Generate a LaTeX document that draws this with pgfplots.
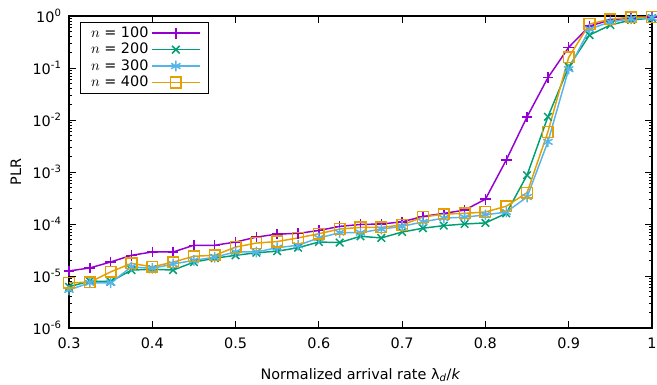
\documentclass[border=0pt]{standalone}
\usepackage{pgfplots}
\pgfplotsset{compat=1.18}
\usepackage{pgfplotstable}
\usepackage{fontspec}
\setmainfont{DejaVu Sans}
\definecolor{cpur}{HTML}{9400D3}
\definecolor{cgrn}{HTML}{009E73}
\definecolor{ccya}{HTML}{56B4E9}
\definecolor{cora}{HTML}{E69F00}
\newcommand{\ff}{\fontsize{10.8}{12.6}\selectfont}

\pgfplotstableread{
x y
0.300 1.25e-5
0.325 1.43e-5
0.350 1.86e-5
0.375 2.5e-5
0.400 2.9e-5
0.425 2.9e-5
0.450 3.9e-5
0.475 3.9e-5
0.500 4.5e-5
0.525 5.6e-5
0.550 6.4e-5
0.575 6.6e-5
0.600 7.5e-5
0.625 9.0e-5
0.650 9.8e-5
0.675 1.0e-4
0.700 1.1e-4
0.725 1.4e-4
0.750 1.6e-4
0.775 1.85e-4
0.800 3.0e-4
0.825 1.7e-3
0.850 1.15e-2
0.875 6.5e-2
0.900 0.25
0.925 0.64
0.950 0.84
0.975 0.92
1.000 0.96
}\tA
\pgfplotstableread{
x y
0.300 6.2e-6
0.325 8.0e-6
0.350 7.8e-6
0.375 1.3e-5
0.400 1.35e-5
0.425 1.3e-5
0.450 1.85e-5
0.475 2.2e-5
0.500 2.5e-5
0.525 2.8e-5
0.550 3.0e-5
0.575 3.5e-5
0.600 4.5e-5
0.625 4.4e-5
0.650 5.8e-5
0.675 5.4e-5
0.700 7.0e-5
0.725 8.3e-5
0.750 9.3e-5
0.775 1.0e-4
0.800 1.05e-4
0.825 1.6e-4
0.850 8.7e-4
0.875 1.15e-2
0.900 0.105
0.925 0.43
0.950 0.67
0.975 0.84
1.000 0.91
}\tB
\pgfplotstableread{
x y
0.300 5.4e-6
0.325 7.4e-6
0.350 7.4e-6
0.375 1.5e-5
0.400 1.4e-5
0.425 1.7e-5
0.450 2.0e-5
0.475 2.3e-5
0.500 2.9e-5
0.525 2.9e-5
0.550 3.5e-5
0.575 3.9e-5
0.600 5.4e-5
0.625 6.8e-5
0.650 6.8e-5
0.675 8.0e-5
0.700 9.0e-5
0.725 1.1e-4
0.750 1.3e-4
0.775 1.35e-4
0.800 1.5e-4
0.825 1.7e-4
0.850 3.3e-4
0.875 3.8e-3
0.900 0.095
0.925 0.56
0.950 0.77
0.975 0.88
1.000 0.93
}\tC
\pgfplotstableread{
x y
0.300 7.4e-6
0.325 7.6e-6
0.350 1.2e-5
0.375 1.75e-5
0.400 1.5e-5
0.425 1.85e-5
0.450 2.4e-5
0.475 2.5e-5
0.500 3.6e-5
0.525 4.3e-5
0.550 4.6e-5
0.575 5.4e-5
0.600 6.5e-5
0.625 8.0e-5
0.650 8.6e-5
0.675 8.6e-5
0.700 9.6e-5
0.725 1.36e-4
0.750 1.55e-4
0.775 1.6e-4
0.800 1.7e-4
0.825 2.2e-4
0.850 4.0e-4
0.875 5.9e-3
0.900 0.16
0.925 0.70
0.950 0.87
0.975 0.95
1.000 0.96
}\tD

\begin{document}
\begin{tikzpicture}
\begin{axis}[
  at={(0,0)}, anchor=south west,
  scale only axis,
  width=437.25pt, height=234pt,
  ymode=log,
  xmin=0.3, xmax=1.0,
  ymin=1e-6, ymax=1,
  xtick={0.3,0.4,0.5,0.6,0.7,0.8,0.9,1.0},
  xticklabels={0.3,0.4,0.5,0.6,0.7,0.8,0.9,1},
  ytick={1e-6,1e-5,1e-4,1e-3,1e-2,1e-1,1},
  yticklabels={10\textsuperscript{-6},10\textsuperscript{-5},10\textsuperscript{-4},10\textsuperscript{-3},10\textsuperscript{-2},10\textsuperscript{-1},10\textsuperscript{0}},
  minor x tick num=0,
  tick align=inside,
  major tick length=5pt,
  minor tick length=2.6pt,
  axis line style={line width=0.8pt},
  every tick/.style={black, line width=0.6pt},
  tick label style={font=\ff, black},
  xticklabel style={yshift=-4pt},
  yticklabel style={xshift=-2pt},
  label style={font=\ff},
  xlabel={Normalized arrival rate λ\textsubscript{\textit{d}}/\textit{k}},
  ylabel={PLR},
  xlabel style={at={(axis description cs:0.5,-0.151)}, anchor=center},
  ylabel style={at={(axis description cs:-0.091,0.5)}, anchor=center},
  legend style={font=\ff, at={(axis description cs:0.019,0.981)}, anchor=north west,
    draw=black, inner xsep=6pt, inner ysep=1.5pt, row sep=-1.2pt,
    /tikz/every even column/.append style={column sep=8pt}},
  legend cell align=right,
  legend plot pos=right,
  legend image code/.code={\draw[mark repeat=2,mark phase=2,#1,line width=1.1pt] plot coordinates {(0pt,0pt) (18pt,0pt) (36pt,0pt)};},
  every axis plot/.append style={line width=1.1pt, mark size=4pt, mark options={solid, line width=1.1pt}},
  clip=false,
]
\addplot[cpur, mark=+] table[x=x,y=y]{\tA};
\addlegendentry{$n$ = 100}
\addplot[cgrn, mark=x] table[x=x,y=y]{\tB};
\addlegendentry{$n$ = 200}
\addplot[ccya, mark=asterisk] table[x=x,y=y]{\tC};
\addlegendentry{$n$ = 300}
\addplot[cora, mark=square] table[x=x,y=y]{\tD};
\addlegendentry{$n$ = 400}
\end{axis}
\pgfresetboundingbox
\path (-51.75pt,-42.75pt) rectangle (441pt,246pt);
\end{tikzpicture}
\end{document}
